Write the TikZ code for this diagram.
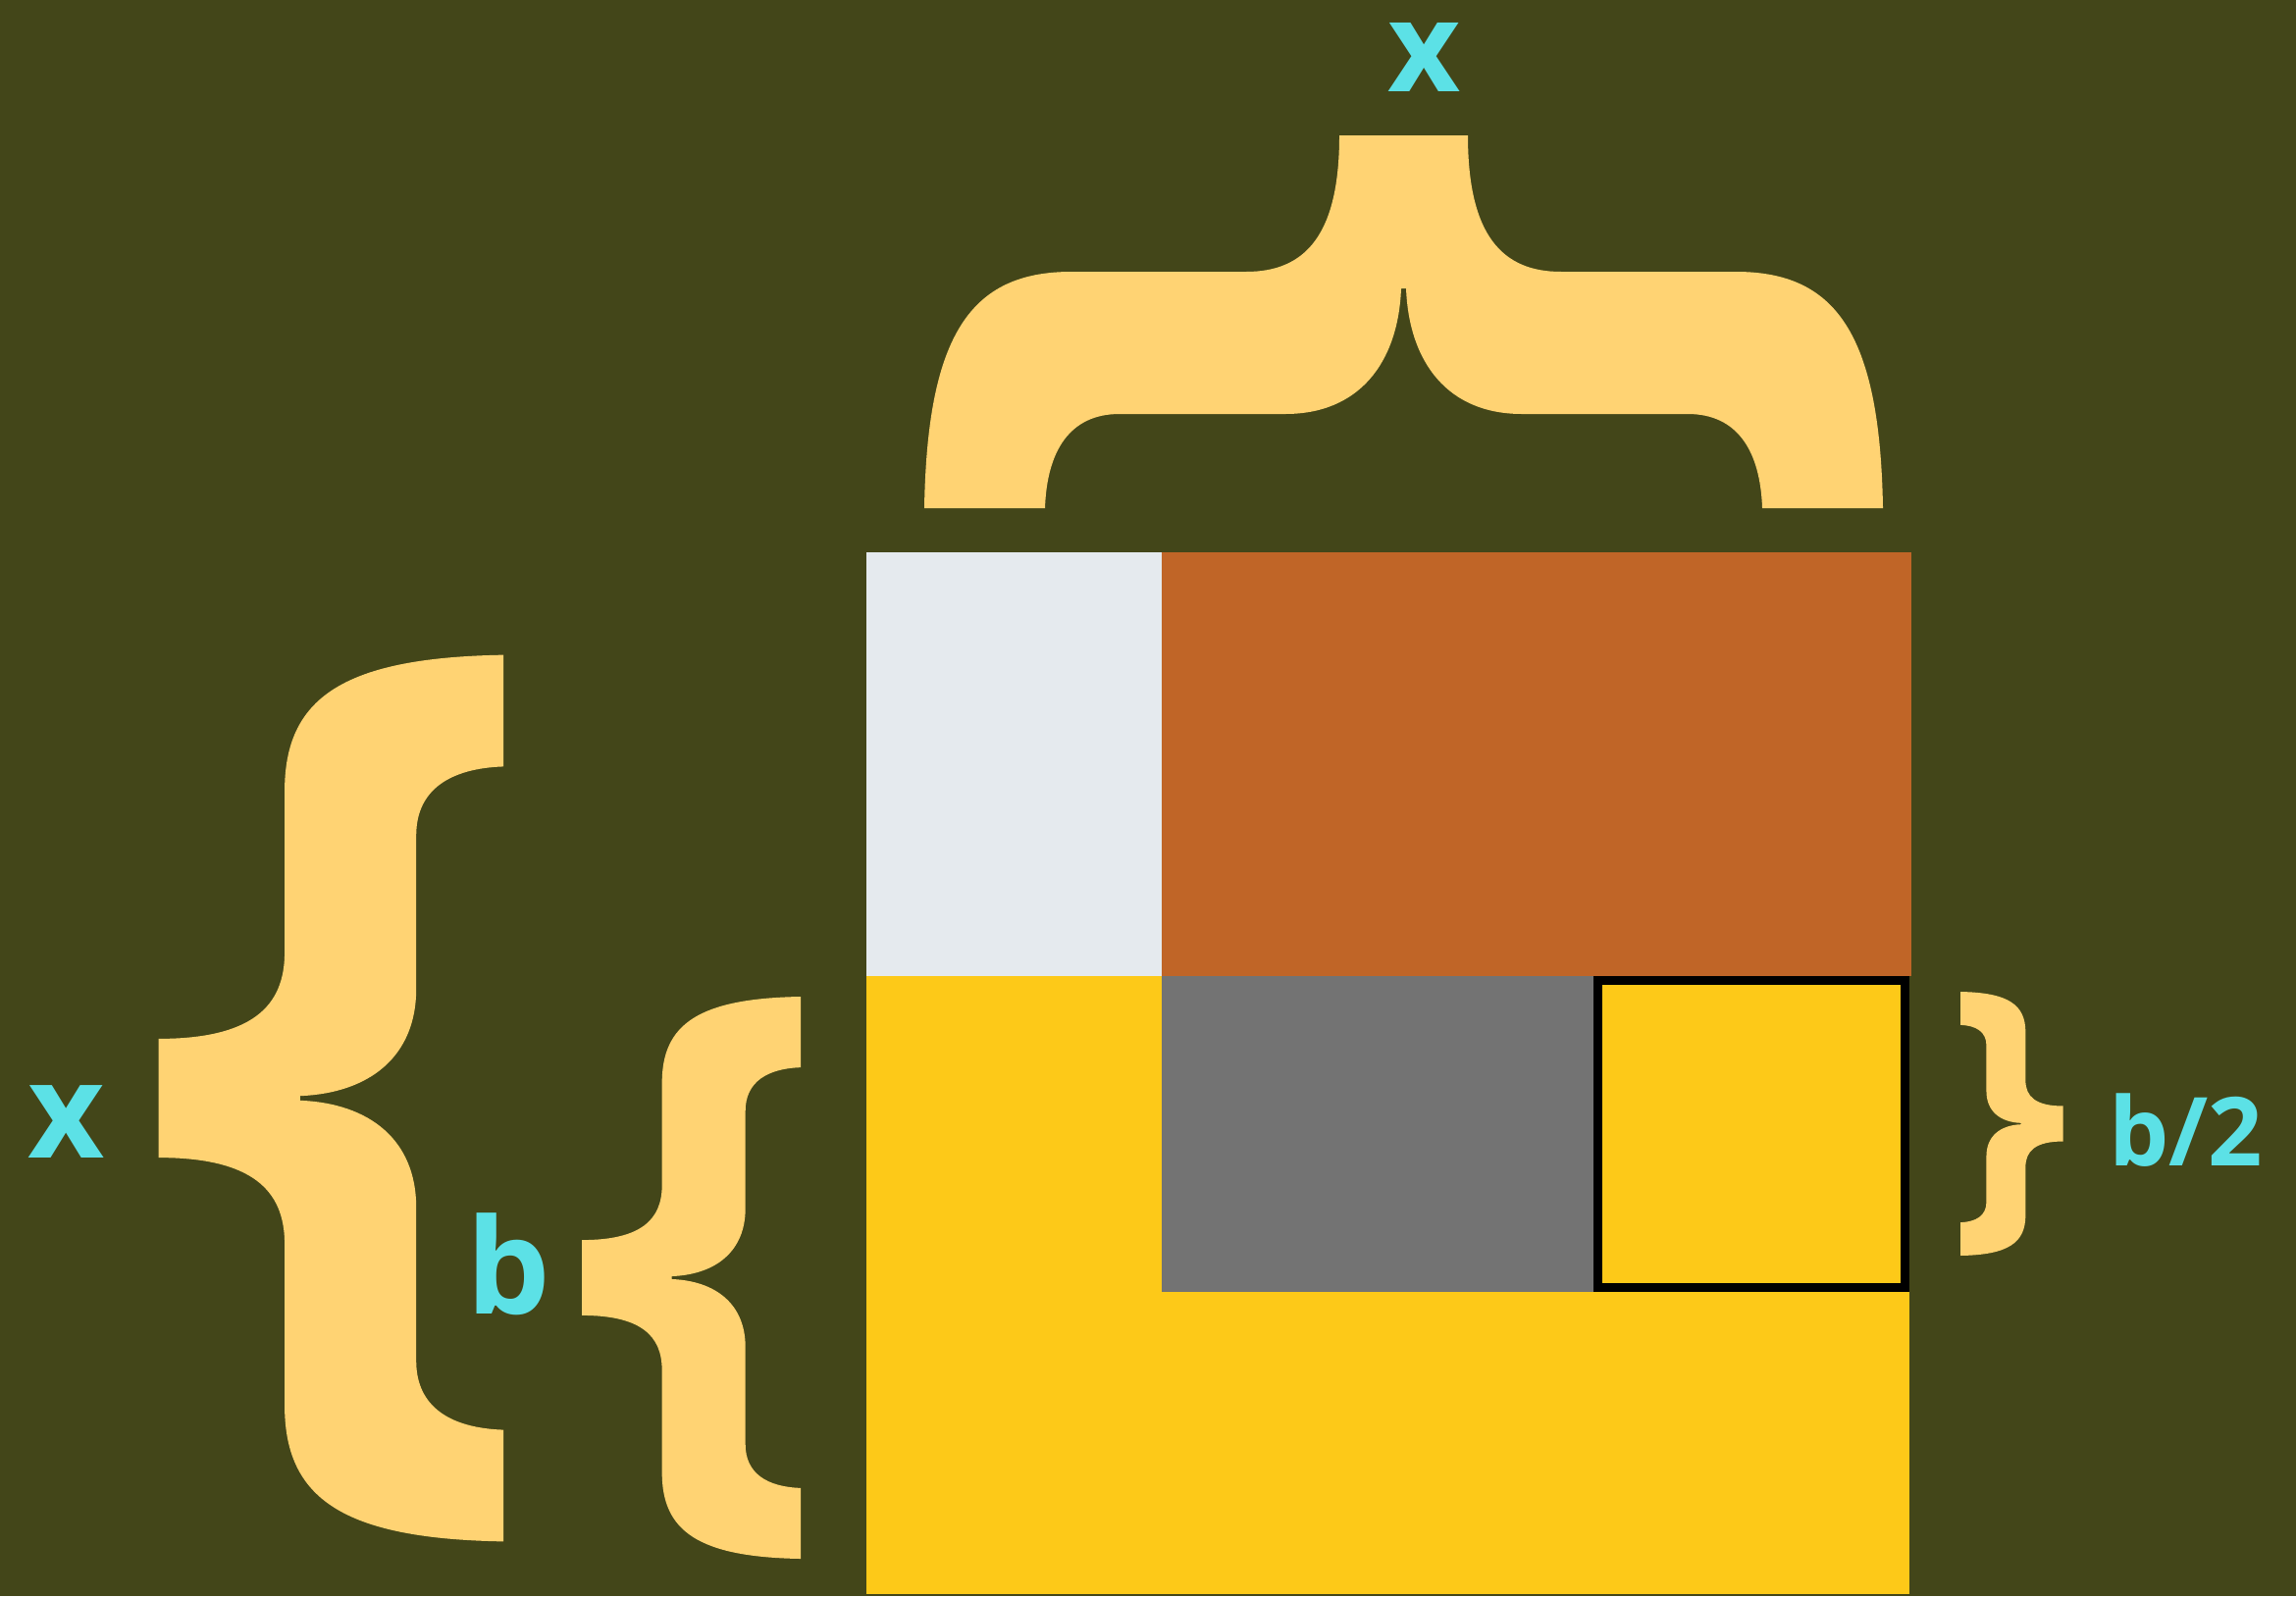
\documentclass[tikz,border=0pt]{standalone}
\usepackage{fontspec}
\usepackage{tikz}
\newfontfamily\lblfont{Open Sans}
\definecolor{bgolive}{HTML}{434619}
\definecolor{brc}{HTML}{FFD373}
\definecolor{cyn}{HTML}{5CE1E6}
\definecolor{pale}{HTML}{E5EAEE}
\definecolor{rust}{HTML}{C06527}
\definecolor{gold}{HTML}{FDC918}
\definecolor{slate}{HTML}{737373}
\tikzset{curly/.pic={
  \fill[brc] (-65.5,-380) .. controls (-65.5,-278) and (-100.5,-241) .. (-160.5,-241)
    -- (-338.5,-241) .. controls (-440.5,-241) and (-485.5,-178) .. (-488.5,0)
    -- (-365.5,0) .. controls (-363.5,-58) and (-340.5,-96) .. (-289.5,-96)
    -- (-120.5,-96) .. controls (-45.5,-96) and (-5.5,-148) .. (-2.5,-224)
    -- (2.5,-224) .. controls (5.5,-148) and (45.5,-96) .. (120.5,-96)
    -- (289.5,-96) .. controls (340.5,-96) and (363.5,-58) .. (365.5,0)
    -- (488.5,0) .. controls (485.5,-178) and (440.5,-241) .. (338.5,-241)
    -- (160.5,-241) .. controls (100.5,-241) and (65.5,-278) .. (65.5,-380) -- cycle;
}}

\begin{document}
\begin{tikzpicture}[x=0.01cm,y=-0.01cm,
  lbl/.style={text=cyn,inner sep=0,anchor=base,font=\lblfont\bfseries\fontsize{38.5}{40}\selectfont},
  small/.style={lbl,font=\lblfont\bfseries\fontsize{27.6}{30}\selectfont}]
  \fill[bgolive] (0,0) rectangle (2340,1627);
  \useasboundingbox (0,0) rectangle (2340,1627);
  \fill[pale] (883,563) rectangle (1184,995);
  \fill[rust] (1184,563) rectangle (1948,995);
  \fill[gold] (883,995) rectangle (1946,1625);
  \fill[slate] (1184,995) rectangle (1624,1317);
  \draw[draw=black,line width=2.6pt,fill=gold] (1628.5,999.5) rectangle (1941.5,1312.5);
  \pic at (1430.5,518) {curly};
  \pic[rotate=90,scale=0.925] at (513,1119.5) {curly};
  \pic[rotate=90,scale=0.5865] at (816,1302.5) {curly};
  \pic[rotate=-90,scale=0.2753] at (1998,1145.5) {curly};
  \node[lbl,font=\lblfont\bfseries\fontsize{36.5}{40}\selectfont] (xtop) at (1451.5,93) {x};
  \node[lbl] (xleft) at (68,1180) {x};
  \node[lbl] (bmid) at (518,1339) {b};
  \node[small] (bhalf) at (2227.5,1188) {b/2};
\end{tikzpicture}
\end{document}
